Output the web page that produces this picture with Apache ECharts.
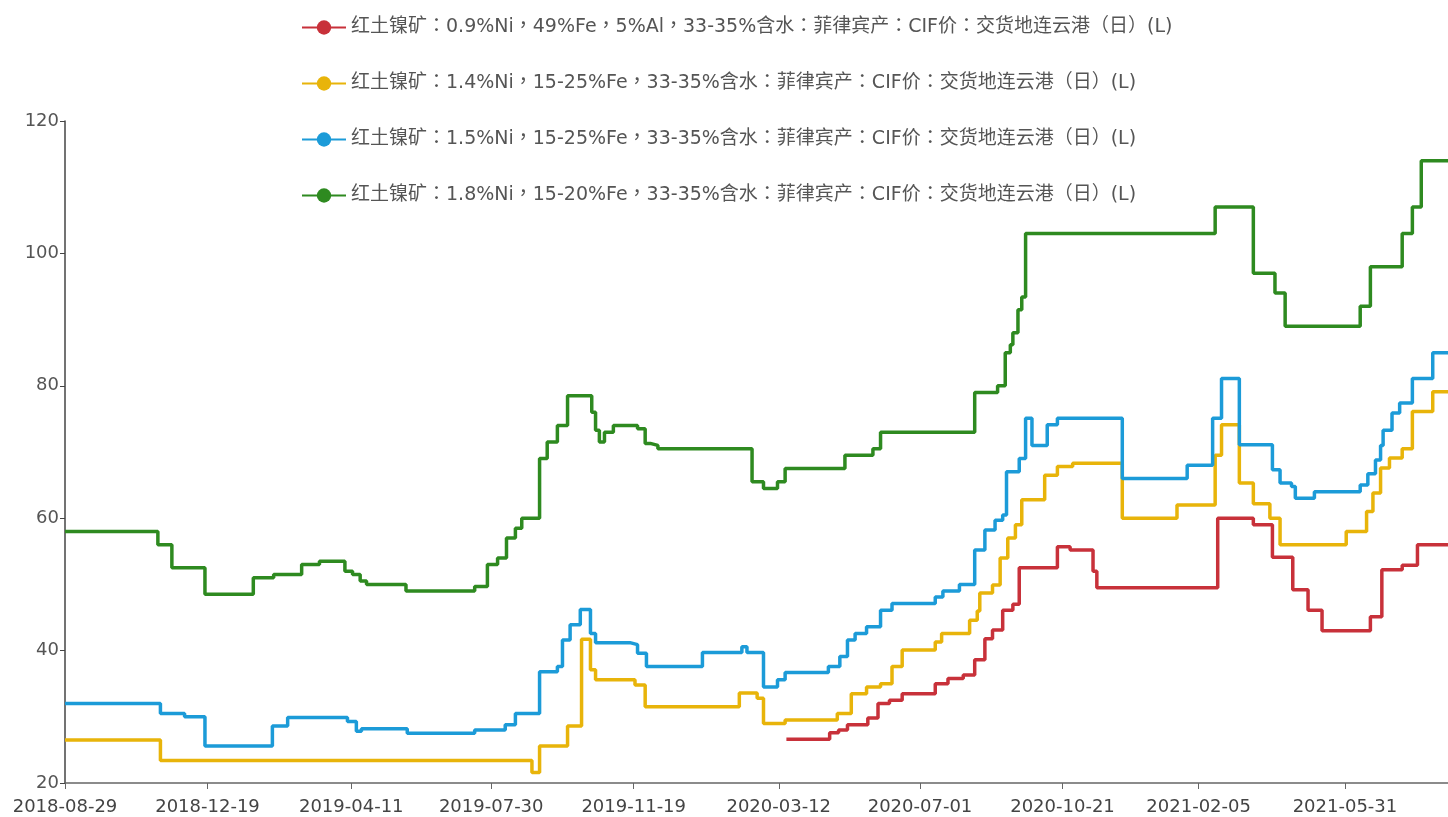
<!DOCTYPE html>
<html>
<head>
<meta charset="utf-8">
<title>红土镍矿 CIF价</title>
<script src="https://cdn.jsdelivr.net/npm/echarts@6/dist/echarts.min.js"></script>
<style>
  html, body { margin: 0; padding: 0; background: #fff; }
  #chart { width: 1448px; height: 817px; }
</style>
</head>
<body>
<div id="chart"></div>
<script>
// x positions are days counted from START
const START = '2018-08-29';
const END_DAY = 1087;
const xLabels = ['2018-08-29', '2018-12-19', '2019-04-11', '2019-07-30', '2019-11-19',
  '2020-03-12', '2020-07-01', '2020-10-21', '2021-02-05', '2021-05-31'];

const seriesNames = [
  '红土镍矿：0.9%Ni，49%Fe，5%Al，33-35%含水：菲律宾产：CIF价：交货地连云港（日）(L)',
  '红土镍矿：1.4%Ni，15-25%Fe，33-35%含水：菲律宾产：CIF价：交货地连云港（日）(L)',
  '红土镍矿：1.5%Ni，15-25%Fe，33-35%含水：菲律宾产：CIF价：交货地连云港（日）(L)',
  '红土镍矿：1.8%Ni，15-20%Fe，33-35%含水：菲律宾产：CIF价：交货地连云港（日）(L)',
];
const colors = ['#c8313a', '#e8b40a', '#1c9bd8', '#2e8a20'];

// [day, price] - price holds from that day until the next entry
const ni09 = [[567, 26.6], [601, 27.6], [608, 28], [615, 28.8], [631, 29.8], [639, 32], [648, 32.5],
  [658, 33.5], [684, 35], [694, 35.8], [706, 36.3], [715, 38.6], [723, 41.8], [729, 43.1], [737, 46.1],
  [745, 47], [750, 52.5], [780, 55.7], [790, 55.2], [808, 52], [811, 49.5], [906, 60], [934, 59],
  [949, 54.1], [965, 49.2], [977, 46.1], [988, 43], [1026, 45.1], [1035, 52.2], [1051, 52.9],
  [1063, 56], [1087, 56]];
const ni14 = [[0, 26.5], [75, 23.4], [367, 21.6], [373, 25.6], [395, 28.6], [406, 41.7], [413, 37.1],
  [417, 35.6], [448, 34.8], [456, 31.5], [530, 33.6], [544, 32.8], [549, 29], [566, 29.5], [607, 30.5],
  [618, 33.5], [630, 34.5], [641, 35], [650, 37.6], [658, 40.1], [684, 41.3], [689, 42.6], [711, 44.6],
  [717, 46], [719, 48.7], [729, 49.9], [735, 54], [741, 57], [747, 59], [752, 62.8], [770, 66.5],
  [780, 67.8], [792, 68.3], [831, 60], [874, 62], [904, 69.5], [909, 74.1], [923, 65.3], [934, 62.2],
  [947, 60], [955, 56], [1007, 58], [1023, 61], [1028, 63.8], [1034, 67.6], [1041, 69.1], [1051, 70.5],
  [1059, 76.1], [1075, 79.1], [1087, 79.1]];
const ni15 = [[0, 32], [75, 30.5], [94, 30], [110, 25.6], [163, 28.6], [175, 29.9], [222, 29.3],
  [229, 27.8], [233, 28.2], [269, 27.5], [322, 28], [346, 28.8], [354, 30.5], [373, 36.8], [387, 37.6],
  [391, 41.6], [397, 43.9], [405, 46.2], [413, 42.6], [417, 41.2], [444, 40.9], [450, 39.6], [457, 37.6],
  [501, 39.7], [532, 40.6], [536, 39.7], [549, 34.5], [560, 35.6], [566, 36.7], [600, 37.6], [609, 39.1],
  [615, 41.6], [621, 42.6], [630, 43.6], [641, 46.1], [650, 47.1], [684, 48.1], [690, 49], [703, 50],
  [715, 55.2], [723, 58.2], [731, 59.7], [737, 60.5], [740, 67], [750, 69], [755, 75.1], [760, 71],
  [772, 74.1], [780, 75.1], [831, 66], [882, 68], [902, 75.1], [909, 81.1], [923, 71.1], [949, 67.3],
  [955, 65.3], [964, 64.8], [967, 63], [982, 64], [1018, 65], [1024, 66.7], [1030, 68.8], [1034, 71],
  [1036, 73.3], [1043, 75.9], [1049, 77.4], [1059, 81.1], [1075, 85], [1087, 85]];
const ni18 = [[0, 58], [73, 56], [84, 52.5], [110, 48.5], [148, 51], [164, 51.5], [186, 53], [200, 53.5],
  [220, 52], [226, 51.5], [232, 50.5], [237, 50], [268, 49], [322, 49.7], [332, 53], [340, 54], [347, 57],
  [354, 58.5], [359, 60], [373, 69], [379, 71.5], [387, 74], [395, 78.5], [414, 76], [417, 73.3],
  [420, 71.5], [424, 73], [431, 74], [450, 73.5], [456, 71.3], [460, 71], [466, 70.5], [540, 65.5],
  [549, 64.5], [560, 65.5], [566, 67.5], [613, 69.5], [635, 70.5], [641, 73], [715, 79], [733, 80],
  [739, 85], [743, 86.2], [745, 88], [749, 91.5], [752, 93.4], [755, 103], [904, 107], [934, 97],
  [951, 94], [959, 89], [1018, 92], [1026, 98], [1051, 103], [1059, 107], [1066, 114], [1087, 114]];

const DAY = 86400000;
function toTime(s) {
  const p = s.split('-');
  return Date.UTC(+p[0], +p[1] - 1, +p[2]);
}
const t0 = toTime(START);
const pad = (n) => (n < 10 ? '0' : '') + n;
function dayLabel(day) {
  const d = new Date(t0 + Math.round(day) * DAY);
  return d.getUTCFullYear() + '-' + pad(d.getUTCMonth() + 1) + '-' + pad(d.getUTCDate());
}
const tickDays = xLabels.map((s) => Math.round((toTime(s) - t0) / DAY));

const FONT = '"DejaVu Sans", "Noto Sans CJK TC", sans-serif';

const chart = echarts.init(document.getElementById('chart'));
chart.setOption({
  animation: false,
  color: colors,
  textStyle: { fontFamily: FONT },
  legend: {
    orient: 'vertical',
    left: 296,
    top: 13,
    itemWidth: 44,
    itemHeight: 18,
    itemGap: 37,
    textStyle: { fontSize: 19, color: '#555', fontFamily: FONT },
    data: seriesNames,
  },
  grid: { left: 65, right: 0, top: 121, bottom: 34 },
  xAxis: {
    type: 'value',
    min: 0,
    max: END_DAY,
    axisLine: { lineStyle: { color: '#666', width: 1.5 } },
    axisTick: { customValues: tickDays, length: 6, lineStyle: { color: '#666' } },
    axisLabel: {
      customValues: tickDays,
      formatter: (v) => dayLabel(v),
      fontSize: 18,
      color: '#444',
      margin: 15,
    },
    splitLine: { show: false },
  },
  yAxis: {
    type: 'value',
    min: 20,
    max: 120,
    interval: 20,
    axisLine: { show: true, lineStyle: { color: '#444', width: 1.5 } },
    axisTick: { show: true, length: 5, lineStyle: { color: '#444' } },
    axisLabel: { fontSize: 18, color: '#555', margin: 6 },
    splitLine: { show: false },
  },
  series: [ni09, ni14, ni15, ni18].map((pts, i) => ({
    name: seriesNames[i],
    type: 'line',
    step: 'end',
    symbol: 'circle',
    symbolSize: 14,
    showSymbol: false,
    lineStyle: { width: 3.5 },
    data: pts,
  })),
});
</script>
</body>
</html>
